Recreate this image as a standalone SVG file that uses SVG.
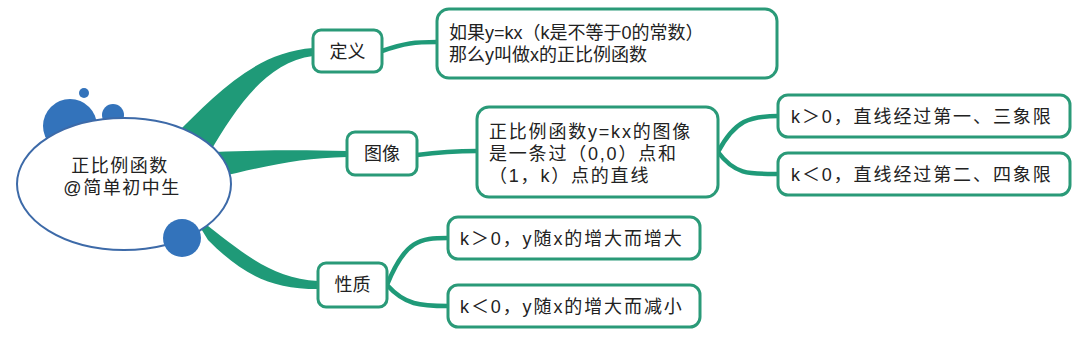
<svg xmlns="http://www.w3.org/2000/svg" width="1080" height="351" viewBox="0 0 1080 351">
<style>
.box{fill:#fff;stroke:#2a9a78;stroke-width:3}
.t{font-family:"Liberation Sans","Noto Sans CJK SC",sans-serif;fill:#222;font-size:18px}
.c{fill:none;stroke:#1f9a78;stroke-width:4.5;stroke-linecap:round}
.br{fill:#1f9a78}
.dot{fill:#3373bb}
</style>
<rect width="1080" height="351" fill="#fff"/>
<g id="connectors">
<path class="br" d="M 172,138 C 215,95 255,52 313,48 L 313,56 C 265,62 235,110 210,152 Z"/>
<path class="br" d="M 215,152 C 270,150 300,150 347,151 L 347,157 C 300,158 270,165 215,178 Z"/>
<path class="br" d="M 192,214 C 235,245 265,278 318,281 L 318,289 C 268,289 240,272 208,240 Z"/>
<path class="c" d="M 382,51 C 405,43 415,42 437,42"/>
<path class="c" d="M 417,155 C 440,152 455,151 477,151"/>
<path class="c" d="M 718,152 C 735,120 750,116 778,116"/>
<path class="c" d="M 718,152 C 735,175 750,174 778,174"/>
<path class="c" d="M 387,285 C 405,240 420,238 448,238"/>
<path class="c" d="M 387,285 C 405,305 420,306 448,306"/>
</g>
<g id="center">
<circle class="dot" cx="70" cy="126" r="27"/>
<circle class="dot" cx="113" cy="115" r="11"/>
<circle class="dot" cx="84" cy="93" r="5"/>
<ellipse cx="124" cy="184" rx="107" ry="66" fill="#fff" stroke="#3d6aa8" stroke-width="2"/>
<circle class="dot" cx="182" cy="238" r="19"/>
<text class="t" font-size="19" letter-spacing="1.5" text-anchor="middle"><tspan x="120" y="172">正比例函数</tspan><tspan x="122" y="194">@简单初中生</tspan></text>
</g>
<g id="n-def">
<rect class="box" x="313" y="30" width="69" height="42" rx="8"/>
<text class="t" font-size="19" x="347.5" y="58" text-anchor="middle">定义</text>
</g>
<g id="n-def-text">
<rect class="box" x="437" y="9" width="340" height="69" rx="12"/>
<text class="t"><tspan x="449" y="39">如果y=kx（k是不等于0的常数）</tspan><tspan x="449" y="61">那么y叫做x的正比例函数</tspan></text>
</g>
<g id="n-img">
<rect class="box" x="347" y="132" width="70" height="43" rx="8"/>
<text class="t" font-size="19" x="382" y="160" text-anchor="middle">图像</text>
</g>
<g id="n-img-text">
<rect class="box" x="477" y="107" width="241" height="90" rx="12"/>
<text class="t" font-size="19" letter-spacing="1.8"><tspan x="489" y="138">正比例函数y=kx的图像</tspan><tspan x="489" y="160">是一条过（0,0）点和</tspan><tspan x="489" y="182">（1，k）点的直线</tspan></text>
</g>
<g id="n-img-pos">
<rect class="box" x="778" y="95" width="292" height="42" rx="10"/>
<text class="t" font-size="19" letter-spacing="1.9" x="791" y="123">k＞0，直线经过第一、三象限</text>
</g>
<g id="n-img-neg">
<rect class="box" x="778" y="153" width="292" height="42" rx="10"/>
<text class="t" font-size="19" letter-spacing="1.9" x="791" y="181">k＜0，直线经过第二、四象限</text>
</g>
<g id="n-prop">
<rect class="box" x="318" y="263" width="69" height="44" rx="8"/>
<text class="t" font-size="19" x="352.5" y="291" text-anchor="middle">性质</text>
</g>
<g id="n-prop-pos">
<rect class="box" x="448" y="217" width="252" height="42" rx="10"/>
<text class="t" font-size="19" letter-spacing="1.9" x="460" y="245">k＞0，y随x的增大而增大</text>
</g>
<g id="n-prop-neg">
<rect class="box" x="448" y="285" width="252" height="42" rx="10"/>
<text class="t" font-size="19" letter-spacing="1.9" x="460" y="313">k＜0，y随x的增大而减小</text>
</g>
</svg>
